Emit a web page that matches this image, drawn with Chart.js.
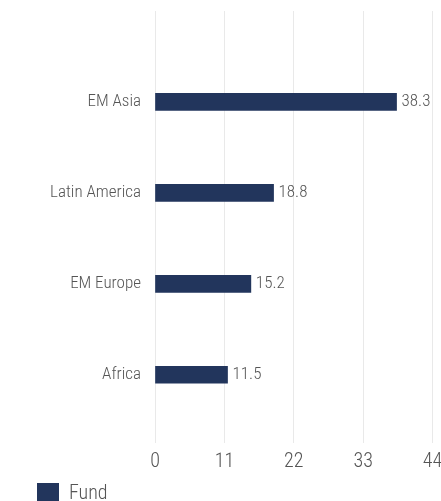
<!DOCTYPE html>
<html>
<head>
<meta charset="utf-8">
<script src="https://cdn.jsdelivr.net/npm/chart.js@4/dist/chart.umd.min.js"></script>
<style>
  html, body { margin: 0; padding: 0; background: #fff; }
  #wrap { width: 441px; height: 501px; position: relative; }
</style>
</head>
<body>
<div id="wrap"><canvas id="c" width="441" height="501"></canvas></div>
<script>
const categories = ['EM Asia', 'Latin America', 'EM Europe', 'Africa'];
const fundValues = [38.3, 18.8, 15.2, 11.5];
const xTicks = [0, 11, 22, 33, 44];
const seriesName = 'Fund';

const FONT = "'Roboto', sans-serif";
const WEIGHT = 'condensed 300';
const TEXT = '#555555';
const BAR = '#22355c';

const valueLabels = {
  id: 'valueLabels',
  afterDatasetsDraw(chart) {
    const ctx = chart.ctx;
    const meta = chart.getDatasetMeta(0);
    ctx.save();
    ctx.font = WEIGHT + ' 17px ' + FONT;
    ctx.fillStyle = TEXT;
    ctx.textAlign = 'left';
    ctx.textBaseline = 'middle';
    meta.data.forEach((bar, i) => {
      ctx.fillText(String(fundValues[i]), bar.x + 5, bar.y);
    });
    ctx.restore();
  }
};

new Chart(document.getElementById('c'), {
  type: 'bar',
  data: {
    datasets: [{
      label: seriesName,
      data: fundValues.map((v, i) => ({ x: v, y: i })),
      backgroundColor: BAR,
      borderWidth: 0,
      barThickness: 17
    }]
  },
  options: {
    indexAxis: 'y',
    responsive: false,
    animation: false,
    devicePixelRatio: 1,
    layout: { padding: { top: 11, right: 8.5, left: 27, bottom: -14 } },
    plugins: {
      tooltip: { enabled: false },
      legend: {
        position: 'bottom',
        align: 'start',
        labels: {
          boxWidth: 22,
          boxHeight: 22,
          padding: 10,
          color: TEXT,
          font: { family: FONT, size: 20, weight: WEIGHT }
        }
      }
    },
    scales: {
      x: {
        type: 'linear',
        min: 0,
        max: 44,
        afterBuildTicks: (scale) => { scale.ticks = xTicks.map(v => ({ value: v })); },
        afterFit: (scale) => { scale.height = 30; scale.paddingLeft = 0; scale.paddingRight = 0; },
        grid: { color: '#e9e9e9', lineWidth: 1, drawTicks: false },
        border: { display: false },
        ticks: {
          padding: 7,
          color: TEXT,
          font: { family: FONT, size: 20, weight: WEIGHT }
        }
      },
      y: {
        type: 'linear',
        reverse: true,
        offset: false,
        min: -1,
        max: 3.75,
        afterBuildTicks: (scale) => { scale.ticks = categories.map((c, i) => ({ value: i })); },
        afterFit: (scale) => { scale.width = 128; scale.paddingTop = 0; scale.paddingBottom = 0; },
        grid: { display: false, drawTicks: false, offset: false },
        border: { display: false },
        ticks: {
          padding: 14,
          color: TEXT,
          font: { family: FONT, size: 17, weight: WEIGHT },
          callback: (v) => categories[v] !== undefined ? categories[v] : ''
        }
      }
    }
  },
  plugins: [valueLabels]
});
</script>
</body>
</html>
